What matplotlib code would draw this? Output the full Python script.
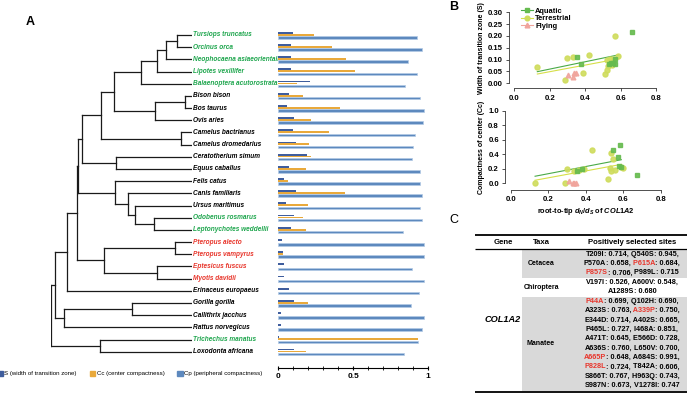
import matplotlib
matplotlib.use("Agg")
import matplotlib.pyplot as plt
from matplotlib.lines import Line2D
from matplotlib.patches import Rectangle

plt.rcParams['font.family'] = ['Liberation Sans', 'DejaVu Sans']
plt.rcParams['mathtext.fontset'] = 'custom'
plt.rcParams['mathtext.rm'] = 'Liberation Sans:bold'
plt.rcParams['mathtext.it'] = 'Liberation Sans:italic:bold'

# ---- panel A data ----
species = ['Tursiops truncatus', 'Orcinus orca', 'Neophocaena asiaeorientalis', 'Lipotes vexillifer',
           'Balaenoptera acutorostrata', 'Bison bison', 'Bos taurus', 'Ovis aries', 'Camelus bactrianus',
           'Camelus dromedarius', 'Ceratotherium simum', 'Equus caballus', 'Felis catus', 'Canis familiaris',
           'Ursus maritimus', 'Odobenus rosmarus', 'Leptonychotes weddellii', 'Pteropus alecto',
           'Pteropus vampyrus', 'Eptesicus fuscus', 'Myotis davidii', 'Erinaceus europaeus',
           'Gorilla gorilla', 'Callithrix jacchus', 'Rattus norvegicus', 'Trichechus manatus',
           'Loxodonta africana']
habitat = ['A', 'A', 'A', 'A', 'A', 'T', 'T', 'T', 'T', 'T', 'T', 'T', 'T', 'T', 'T', 'A', 'A',
           'F', 'F', 'F', 'F', 'T', 'T', 'T', 'T', 'A', 'T']
S = [0.096, 0.082, 0.082, 0.082, 0.209, 0.073, 0.058, 0.102, 0.096, 0.116, 0.193, 0.073, 0.040, 0.116,
     0.049, 0.107, 0.082, 0.022, 0.033, 0.040, 0.040, 0.069, 0.102, 0.020, 0.016, 0.002, 0.107]
Cc = [0.240, 0.356, 0.451, 0.511, 0.122, 0.164, 0.411, 0.216, 0.336, 0.207, 0.216, 0.182, 0.062, 0.444,
      0.200, 0.162, 0.184, 0.0, 0.033, 0.0, 0.0, 0.0, 0.196, 0.0, 0.0, 0.931, 0.184]
Cp = [0.927, 0.958, 0.867, 0.927, 0.847, 0.944, 0.971, 0.967, 0.913, 0.900, 0.893, 0.949, 0.949, 0.962,
      0.944, 0.962, 0.836, 0.971, 0.971, 0.896, 0.971, 0.940, 0.884, 0.971, 0.960, 0.931, 0.840]

# tree: (node depth from root, child, child); tips sit at depth 1
tree = (0.0,
        (0.030,
         (0.113,
          (0.186,
           (0.193,
            (0.221,
             (0.353,
              (0.445,
               (0.638, (0.751, (0.812, (0.890, 'Tursiops truncatus', 'Orcinus orca'),
                                'Neophocaena asiaeorientalis'), 'Lipotes vexillifer'),
                'Balaenoptera acutorostrata'),
               (0.739, (0.948, 'Bison bison', 'Bos taurus'), 'Ovis aries')),
              (0.922, 'Camelus bactrianus', 'Camelus dromedarius')),
             (0.459, 'Ceratotherium simum', 'Equus caballus')),
            (0.452, 'Felis catus',
             (0.544, 'Canis familiaris',
              (0.595, 'Ursus maritimus', (0.732, 'Odobenus rosmarus', 'Leptonychotes weddellii'))))),
           (0.379, (0.876, 'Pteropus alecto', 'Pteropus vampyrus'),
            (0.749, 'Eptesicus fuscus', 'Myotis davidii'))),
          'Erinaceus europaeus'),
         (0.094, (0.572, 'Gorilla gorilla', 'Callithrix jacchus'), 'Rattus norvegicus')),
        (0.348, 'Trichechus manatus', 'Loxodonta africana'))

# ---- panel B data (x = root-to-tip dN/dS) ----
aq_x_top = [0.663, 0.352, 0.375, 0.536, 0.560, 0.569, 0.569, 0.548]
aq_S = [0.218, 0.112, 0.082, 0.083, 0.085, 0.083, 0.101, 0.085]
te_x_top = [0.130, 0.286, 0.299, 0.330, 0.423, 0.390, 0.570, 0.587, 0.512, 0.525, 0.531, 0.550, 0.540,
            0.559, 0.522]
te_S = [0.068, 0.015, 0.106, 0.110, 0.120, 0.045, 0.200, 0.117, 0.039, 0.056, 0.074, 0.077, 0.101,
        0.103, 0.098]
fl_x_top = [0.305, 0.330, 0.337, 0.348]
fl_S = [0.035, 0.028, 0.042, 0.045]

aq_x_bot = [0.583, 0.544, 0.571, 0.672, 0.355, 0.379, 0.579, 0.586]
aq_Cc = [0.523, 0.459, 0.358, 0.118, 0.165, 0.193, 0.242, 0.220]
te_x_bot = [0.128, 0.290, 0.302, 0.338, 0.391, 0.432, 0.533, 0.547, 0.530, 0.533, 0.556, 0.519, 0.597,
            0.590, 0.365]
te_Cc = [0.0, 0.0, 0.193, 0.174, 0.197, 0.459, 0.422, 0.335, 0.207, 0.169, 0.179, 0.055, 0.207, 0.230,
         0.190]
fl_x_bot = [0.311, 0.330, 0.338, 0.350]
fl_Cc = [0.036, 0.0, 0.0, 0.0]

# fitted lines (intercept, slope) and x range
fit_x = [0.13, 0.59]
fit_S = {'Aquatic': (0.029, 0.155), 'Terrestrial': (0.021, 0.140)}
fit_Cc = {'Aquatic': (0.033, 0.495), 'Terrestrial': (-0.020, 0.476)}

# ---- panel C data ----
taxa = ['Cetacea', 'Chiroptera', 'Manatee']
sites = {
    'Cetacea': [('T209I', 0.714), ('Q540S', 0.945), ('P570A', 0.658), ('P615A', 0.684),
                ('P857S', 0.706), ('P989L', 0.715)],
    'Chiroptera': [('V197I', 0.526), ('A600V', 0.548), ('A1289S', 0.680)],
    'Manatee': [('P44A', 0.699), ('Q102H', 0.690), ('A323S', 0.763), ('A339P', 0.750),
                ('E344D', 0.714), ('A402S', 0.665), ('P465L', 0.727), ('I468A', 0.851),
                ('A471T', 0.645), ('E566D', 0.728), ('A636S', 0.760), ('L650V', 0.700),
                ('A665P', 0.648), ('A684S', 0.991), ('P828L', 0.724), ('T842A', 0.606),
                ('S866T', 0.767), ('H963Q', 0.743), ('S987N', 0.673), ('V1278I', 0.747)],
}
red_sites = ['P615A', 'P857S', 'P44A', 'A339P', 'A665P', 'P828L']

GREEN = '#1fa64e'
RED = '#e8362c'
label_col = {'A': GREEN, 'T': 'black', 'F': RED}
S_COL, CC_COL, CP_COL = '#3f5d9d', '#e9a93b', '#5d89be'
AQ, TE, FL = '#66bb4f', '#cfdc5c', '#f0a49c'
AQ_LINE, TE_LINE = '#4aaa48', '#d6df48'

W, H = 687, 400
fig = plt.figure(figsize=(W / 100, H / 100), dpi=100)


def px_axes(x0, y0, x1, y1):
    return fig.add_axes([x0 / W, 1 - y1 / H, (x1 - x0) / W, (y1 - y0) / H])


n = len(species)
ylim = (n - 0.5, -0.5)

# ---- tree ----
ax_t = px_axes(50.7, 28.9, 192.3, 357.8)
ax_t.set_xlim(0, 1)
ax_t.set_ylim(*ylim)
ax_t.axis('off')
row = {name: i for i, name in enumerate(species)}
line_kw = dict(color='#1a1a1a', lw=0.9, solid_capstyle='projecting')


def draw(node, parent_x):
    if isinstance(node, str):
        y = row[node]
        ax_t.plot([parent_x, 1.0], [y, y], **line_kw)
        return y
    x, a, b = node
    ya = draw(a, x)
    yb = draw(b, x)
    ax_t.plot([x, x], [ya, yb], **line_kw)
    y = (ya + yb) / 2
    if parent_x is not None:
        ax_t.plot([parent_x, x], [y, y], **line_kw)
    return y


draw(tree, None)
for i, name in enumerate(species):
    ax_t.text(1.008, i, name, ha='left', va='center', fontsize=4.7, fontweight='bold',
              fontstyle='italic', color=label_col[habitat[i]], clip_on=False)

# ---- bars ----
ax_b = px_axes(278.3, 28.9, 428, 357.8)
ax_b.set_xlim(0, 1)
ax_b.set_ylim(*ylim)
ys = list(range(n))
ax_b.barh([y - 0.18 for y in ys], S, height=0.15, color=S_COL, lw=0)
ax_b.barh([y - 0.02 for y in ys], Cc, height=0.15, color=CC_COL, lw=0)
ax_b.barh([y + 0.19 for y in ys], Cp, height=0.2, color=CP_COL, edgecolor='#b3cbe6', lw=0.5)
for sp in ['top', 'right', 'left']:
    ax_b.spines[sp].set_visible(False)
ax_b.spines['bottom'].set_position(('outward', 7.6))
ax_b.spines['bottom'].set_linewidth(0.8)
ax_b.set_yticks([])
ax_b.set_xticks([0, 0.5, 1])
ax_b.set_xticklabels(['0', '0.5', '1'])
ax_b.set_xticks([i / 10 for i in range(11)], minor=True)
ax_b.tick_params(axis='x', which='major', direction='inout', length=3, width=0.8, pad=2,
                 labelsize=6)
ax_b.tick_params(axis='x', which='minor', direction='inout', length=2.5, width=0.6)
for t in ax_b.get_xticklabels():
    t.set_fontweight('bold')

# legend of panel A
leg_items = [('S (width of transition zone)', S_COL, -3),
             ('Cc (center compactness)', CC_COL, 89.5),
             ('Cp (peripheral compactness)', CP_COL, 177)]
for text, col, x in leg_items:
    fig.patches.append(Rectangle((x / W, 1 - 376 / H), 5.5 / W, 5.5 / H, color=col,
                                 transform=fig.transFigure))
    fig.text((x + 7.5) / W, 1 - 373.3 / H, text, fontsize=4.4, va='center', ha='left')

fig.text(30 / W, 1 - 22 / H, 'A', fontsize=9, fontweight='bold', ha='center', va='center')
fig.text(454 / W, 1 - 7.5 / H, 'B', fontsize=9, fontweight='bold', ha='center', va='center')
fig.text(454 / W, 1 - 220 / H, 'C', fontsize=9, ha='center', va='center')


# ---- panel B ----
def style_r(ax, xoff, yoff, ybounds, yticks, yfmt):
    for sp in ['top', 'right']:
        ax.spines[sp].set_visible(False)
    ax.spines['left'].set_position(('outward', xoff))
    ax.spines['bottom'].set_position(('outward', yoff))
    ax.spines['left'].set_bounds(*ybounds)
    ax.spines['bottom'].set_bounds(0, 0.8)
    for sp in ['left', 'bottom']:
        ax.spines[sp].set_linewidth(0.6)
        ax.spines[sp].set_color('#333333')
    ax.set_xlim(0, 0.8)
    ax.set_ylim(*ybounds)
    ax.set_xticks([0, 0.2, 0.4, 0.6, 0.8])
    ax.set_xticklabels(['0.0', '0.2', '0.4', '0.6', '0.8'])
    ax.set_yticks(yticks)
    ax.set_yticklabels([yfmt % v for v in yticks])
    ax.tick_params(length=2.5, width=0.6, labelsize=5.6, pad=2, color='#333333')
    for t in ax.get_xticklabels() + ax.get_yticklabels():
        t.set_fontweight('bold')


def scatter_panel(ax, xa, ya, xt, yt, xf, yf, fits):
    xs = fit_x
    for key, col in [('Aquatic', AQ_LINE), ('Terrestrial', TE_LINE)]:
        b0, b1 = fits[key]
        ax.plot(xs, [b0 + b1 * v for v in xs], color=col, lw=0.8, clip_on=False)
    ax.plot(xt, yt, 'o', ms=3.6, color=TE, mec=TE, alpha=0.9, clip_on=False)
    ax.plot(xa, ya, 's', ms=3.2, color=AQ, mec=AQ, alpha=0.9, clip_on=False)
    ax.plot(xf, yf, '^', ms=3.4, color=FL, mec=FL, alpha=0.9, clip_on=False)


ax_s = px_axes(514.3, 12.3, 656, 83.3)
style_r(ax_s, 3.6, 3.6, (0, 0.3), [0, 0.05, 0.1, 0.15, 0.2, 0.25, 0.3], '%.2f')
scatter_panel(ax_s, aq_x_top, aq_S, te_x_top, te_S, fl_x_top, fl_S, fit_S)
ax_s.set_ylabel('Width of transition zone (S)', fontsize=5, fontweight='bold', labelpad=2)
handles = [Line2D([], [], color=AQ_LINE, marker='s', mfc=AQ, mec=AQ, ms=3.2, lw=0.8),
           Line2D([], [], color=TE_LINE, marker='o', mfc=TE, mec=TE, ms=3.4, lw=0.8),
           Line2D([], [], color=FL, marker='^', mfc=FL, mec=FL, ms=3.4, lw=0.8)]
leg = ax_s.legend(handles, ['Aquatic', 'Terrestrial', 'Flying'], loc='upper left',
                  bbox_to_anchor=(521 / W, 1 - 7.5 / H), bbox_transform=fig.transFigure,
                  frameon=False, fontsize=5.4, handlelength=1.6, handletextpad=0.3,
                  labelspacing=0.05, borderpad=0, borderaxespad=0)
for t in leg.get_texts():
    t.set_fontweight('bold')

ax_c = px_axes(510.7, 110.7, 660.7, 183.3)
style_r(ax_c, 4.0, 4.8, (0, 1.0), [0, 0.2, 0.4, 0.6, 0.8, 1.0], '%.1f')
scatter_panel(ax_c, aq_x_bot, aq_Cc, te_x_bot, te_Cc, fl_x_bot, fl_Cc, fit_Cc)
ax_c.set_ylabel('Compactness of center (Cc)', fontsize=5, fontweight='bold', labelpad=2)
ax_c.set_xlabel(r'root-to-tip $d_N/d_S$ of $\mathit{COL1A2}$', fontsize=5.3, fontweight='bold',
                labelpad=2)

# ---- panel C: table (axes in image pixel units) ----
ax_tab = px_axes(470, 228, 687, 400)
ax_tab.set_xlim(470, 687)
ax_tab.set_ylim(400, 228)
ax_tab.axis('off')
tx0, tx1 = 475, 687
gray_x0 = 521.5
line_h = 9.4
sites_xc = 632
ax_tab.plot([tx0, tx1], [235, 235], color='black', lw=1.3, solid_capstyle='butt')
ax_tab.plot([tx0, tx1], [248.5, 248.5], color='black', lw=0.9, solid_capstyle='butt')
hdr_kw = dict(fontsize=5.6, fontweight='bold', ha='center', va='center')
ax_tab.text(503, 242, 'Gene', **hdr_kw)
ax_tab.text(541, 242, 'Taxa', **hdr_kw)
ax_tab.text(sites_xc, 242, 'Positively selected sites', **hdr_kw)

renderer = fig.canvas.get_renderer()
txt_kw = dict(fontsize=5.2, fontweight='bold', va='center')
probe = ax_tab.text(0, 0, '', **txt_kw)


def text_width(s):
    probe.set_text(s)
    return probe.get_window_extent(renderer).width


y = 249.5
for k, tax in enumerate(taxa):
    lst = sites[tax]
    lines = [lst[i:i + 2] for i in range(0, len(lst), 2)]
    block_h = len(lines) * line_h
    if k != 1:
        ax_tab.add_patch(Rectangle((gray_x0, y), tx1 - gray_x0, block_h, color='#d9d9d9', lw=0))
    ax_tab.text(541, y + block_h / 2, tax, fontsize=5.0, fontweight='bold', ha='center', va='center')
    for j, pair in enumerate(lines):
        yl = y + (j + 0.5) * line_h
        # pieces all end on a visible glyph; each is right-aligned at the prefix width
        pieces = []
        for m, (site, score) in enumerate(pair):
            last = (j == len(lines) - 1 and m == len(pair) - 1)
            pieces.append((('' if m == 0 else ' ') + site, RED if site in red_sites else 'black'))
            pieces.append((': %.3f' % score + ('' if last else ','), 'black'))
        full = ''.join(p for p, _ in pieces)
        x_left = sites_xc - text_width(full) / 2
        acc = ''
        for p, c in pieces:
            acc += p
            ax_tab.text(x_left + text_width(acc), yl, p, color=c, ha='right', **txt_kw)
    y += block_h
probe.remove()
ax_tab.plot([tx0, tx1], [y + 1, y + 1], color='black', lw=1.3, solid_capstyle='butt')
ax_tab.text(503, (249.5 + y) / 2, 'COL1A2', fontsize=6.6, fontweight='bold', fontstyle='italic',
            ha='center', va='center')

fig.savefig('out.png', dpi=100)
